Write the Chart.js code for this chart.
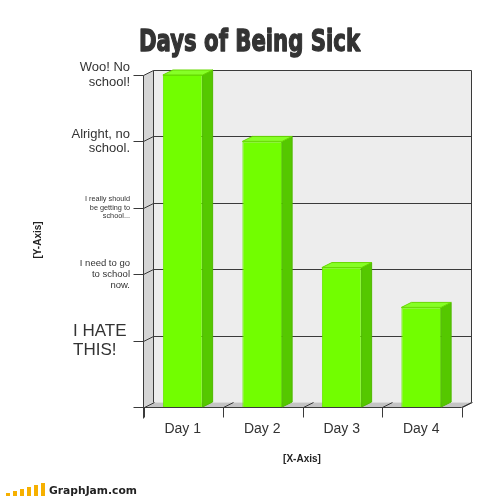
<!DOCTYPE html>
<html>
<head>
<meta charset="utf-8">
<script src="https://cdn.jsdelivr.net/npm/chart.js@4.4.0/dist/chart.umd.min.js"></script>
<style>
  html, body { margin: 0; padding: 0; background: #fff; }
  #wrap { width: 504px; height: 497px; position: relative; }
</style>
</head>
<body>
<div id="wrap"><canvas id="sickChart"></canvas></div>
<script>
// data
const days = ['Day 1', 'Day 2', 'Day 3', 'Day 4'];
const sickness = [5, 4, 2.1, 1.5];
const levelValues = [1, 2, 3, 4, 5];
const levelLabels = [
    ['I HATE', 'THIS!'],
    ['I need to go', 'to school', 'now.'],
    ['I really should', 'be getting to', 'school...'],
    ['Alright, no', 'school.'],
    ['Woo! No', 'school!']
];
const levelFontSizes = [17, 9.5, 7.3, 13, 13];

// 3d depth offset
const DX = 10;
const DY = -5;
const LABEL_FONT = '"Liberation Sans", Arial, sans-serif';

const poly = (ctx, pts, fill, stroke) => {
    ctx.beginPath();
    ctx.moveTo(pts[0][0], pts[0][1]);
    for (let i = 1; i < pts.length; i++) ctx.lineTo(pts[i][0], pts[i][1]);
    ctx.closePath();
    if (fill) { ctx.fillStyle = fill; ctx.fill(); }
    if (stroke) { ctx.strokeStyle = stroke; ctx.lineWidth = 1; ctx.stroke(); }
};

const line = (ctx, x1, y1, x2, y2, color) => {
    ctx.beginPath();
    ctx.moveTo(x1, y1);
    ctx.lineTo(x2, y2);
    ctx.strokeStyle = color || '#333';
    ctx.lineWidth = 1;
    ctx.stroke();
};

const box3d = {
    id: 'box3d',
    beforeDatasetsDraw(chart) {
        const { ctx, chartArea: a, scales: { y } } = chart;
        const L = a.left + 0.5, R = a.right + 0.5, T = a.top + 0.5, B = a.bottom + 0.5;
        ctx.save();
        // back wall, side wall, floor
        poly(ctx, [[L + DX, T + DY], [R + DX, T + DY], [R + DX, B + DY], [L + DX, B + DY]], '#ededed');
        poly(ctx, [[L, T], [L + DX, T + DY], [L + DX, B + DY], [L, B]], '#d5d5d5');
        poly(ctx, [[L, B], [L + DX, B + DY], [R + DX, B + DY], [R, B]], '#c4c4c4');

        // grid lines on the back + side
        levelValues.forEach(v => {
            const yp = Math.round(y.getPixelForValue(v)) + 0.5;
            line(ctx, L + DX, yp + DY, R + DX, yp + DY, '#3a3a3a');
            line(ctx, L, yp, L + DX, yp + DY, '#3a3a3a');
            line(ctx, L - 10, yp, L, yp, '#3a3a3a');
        });
        // outline of back wall
        line(ctx, R + DX, T + DY, R + DX, B + DY, '#3a3a3a');
        line(ctx, L + DX, T + DY, L + DX, B + DY, '#3a3a3a');
        // front axis
        line(ctx, L, T, L, B + 11, '#3a3a3a');
        line(ctx, L - 10, B, R, B, '#3a3a3a');
        line(ctx, R, B, R + DX, B + DY, '#3a3a3a');
        // category separators on the floor
        const step = (R - L) / days.length;
        for (let i = 0; i <= days.length; i++) {
            const bx = Math.round(L + i * step) + 0.5;
            line(ctx, bx, B, bx + DX, B + DY, '#3a3a3a');
            line(ctx, bx, B, bx, B + 10, '#3a3a3a');
        }
        ctx.restore();
    },
    afterDatasetsDraw(chart) {
        const { ctx } = chart;
        ctx.save();
        chart.getDatasetMeta(0).data.forEach(bar => {
            const l = bar.x - bar.width / 2, r = bar.x + bar.width / 2;
            const t = bar.y, b = bar.base;
            poly(ctx, [[r, t], [r + DX, t + DY], [r + DX, b + DY], [r, b]], '#55c800', '#4fb800');
            poly(ctx, [[l, t], [l + DX, t + DY], [r + DX, t + DY], [r, t]], '#86ff26', '#66d800');
        });
        ctx.restore();
    },
    afterDraw(chart) {
        const { ctx, chartArea: a, scales: { x, y } } = chart;
        ctx.save();
        ctx.fillStyle = '#333';

        // title, squeezed like a condensed display face
        ctx.font = 'bold 30px "DejaVu Sans", sans-serif';
        ctx.textBaseline = 'alphabetic';
        ctx.textAlign = 'left';
        const tw = ctx.measureText('Days of Being Sick').width;
        ctx.save();
        ctx.translate(139, 51);
        ctx.scale(221 / tw, 1);
        ctx.strokeStyle = '#333';
        ctx.lineWidth = 1.4;
        ctx.lineJoin = 'round';
        ctx.strokeText('Days of Being Sick', 0, 0);
        ctx.fillText('Days of Being Sick', 0, 0);
        ctx.restore();

        // level labels on the y axis
        ctx.textBaseline = 'middle';
        levelValues.forEach((v, i) => {
            const lines = levelLabels[i];
            const fs = levelFontSizes[i];
            const lh = fs * 1.15;
            const yc = y.getPixelForValue(v);
            ctx.font = fs + 'px ' + LABEL_FONT;
            const leftAligned = fs > 15;
            ctx.textAlign = leftAligned ? 'left' : 'right';
            const tx = leftAligned ? 73 : a.left - 13;
            lines.forEach((s, k) => {
                ctx.fillText(s, tx, yc + (k - (lines.length - 1) / 2) * lh);
            });
        });

        // category labels
        ctx.font = '14px ' + LABEL_FONT;
        ctx.textAlign = 'center';
        days.forEach((d, i) => {
            ctx.fillText(d, x.getPixelForValue(i), 429);
        });

        // axis titles
        ctx.font = 'bold 10px ' + LABEL_FONT;
        ctx.fillStyle = '#222';
        ctx.fillText('[X-Axis]', 302, 459);
        ctx.save();
        ctx.translate(38, 240);
        ctx.rotate(-Math.PI / 2);
        ctx.fillText('[Y-Axis]', 0, 0);
        ctx.restore();

        // watermark
        const barH = [3, 5, 7, 9, 11, 13];
        ctx.fillStyle = '#f6b000';
        barH.forEach((h, i) => {
            ctx.fillRect(6 + i * 7, 496 - h, 4, h);
        });
        ctx.fillStyle = '#222';
        ctx.font = 'bold 11px "DejaVu Sans", sans-serif';
        ctx.textAlign = 'left';
        ctx.textBaseline = 'alphabetic';
        const ww = ctx.measureText('GraphJam.com').width;
        ctx.save();
        ctx.translate(49, 494);
        ctx.scale(88 / ww, 1);
        ctx.fillText('GraphJam.com', 0, 0);
        ctx.restore();

        ctx.restore();
    }
};

const chart = new Chart(document.getElementById('sickChart'), {
    type: 'bar',
    data: {
        labels: days,
        datasets: [{
            data: sickness,
            backgroundColor: '#72fe00',
            borderColor: '#66e600',
            borderWidth: 1,
            barPercentage: 0.5,
            categoryPercentage: 1
        }]
    },
    options: {
        responsive: true,
        maintainAspectRatio: false,
        animation: false,
        layout: {
            padding: { left: 143, top: 75, right: 43, bottom: 90 }
        },
        plugins: {
            legend: { display: false },
            tooltip: { enabled: false },
            title: { display: false }
        },
        scales: {
            x: { display: false },
            y: { display: false, min: 0, max: 5 }
        }
    },
    plugins: [box3d]
});
</script>
</body>
</html>
